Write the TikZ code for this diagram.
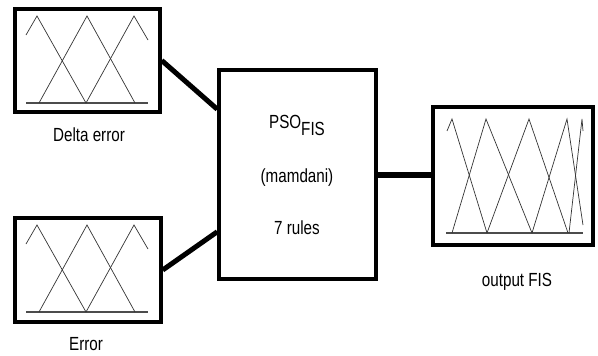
\documentclass[tikz,border=0pt]{standalone}
\usepackage{fontspec}
\setmainfont{Liberation Sans}[FakeStretch=0.8]
\begin{document}
\begin{tikzpicture}[x=1pt,y=-1pt,
  box/.style={draw,line width=3.5pt,inner sep=0pt,minimum width=#1},
  mf/.style={line width=0.7pt,draw=black!80},
  base/.style={line width=1.6pt,draw=black!70},
  conn/.style={line width=5pt},
  lbl/.style={font=\fontsize{19}{21}\selectfont,inner sep=0pt}]
\useasboundingbox (0,0) rectangle (598,356);
\node[box=145pt,minimum height=103pt] (tl) at (87.5,60.5) {};
\node[box=146pt,minimum height=104pt] (bl) at (88,270) {};
\node[box=157pt,minimum height=209pt] (c) at (297.5,174.5) {};
\node[box=160pt,minimum height=138pt] (out) at (513,176) {};
% membership functions top-left
\draw[base] (26,103) -- (148,103);
\draw[mf] (26,35) -- (37,16) -- (86,103);
\draw[mf] (39,103) -- (87,16) -- (135,103);
\draw[mf] (86,103) -- (134,16) -- (148,40);
% bottom-left
\draw[base] (26,312) -- (148,312);
\draw[mf] (26,244) -- (37,225) -- (86,312);
\draw[mf] (39,312) -- (87,225) -- (135,312);
\draw[mf] (86,312) -- (134,225) -- (148,249);
% output
\draw[base] (446,233) -- (583,233);
\draw[mf] (447,131) -- (452,119) -- (487,233);
\draw[mf] (452,233) -- (486,119) -- (532,233);
\draw[mf] (487,233) -- (529,119) -- (568,233);
\draw[mf] (532,233) -- (567,119) -- (583,225);
\draw[mf] (569,233) -- (582,119) -- (583,131);
% connectors
\draw[conn] (tl.east) -- ([yshift=-41pt]c.north west);
\draw[conn] (bl.east) -- ([yshift=49pt]c.south west);
\draw[line width=6pt] (c.east) -- (c.east -| out.west);
% labels
\node[lbl] (l1) at (89,135) {Delta error};
\node[lbl] (l2) at (86,344) {Error};
\node[lbl] (l3) at (517,282) {output FIS};
\node[lbl] (t1) at (297,125) {PSO\raisebox{-7pt}{FIS}};
\node[lbl] (t2) at (297,178) {(mamdani)};
\node[lbl] (t3) at (297,228) {7 rules};
\end{tikzpicture}
\end{document}
